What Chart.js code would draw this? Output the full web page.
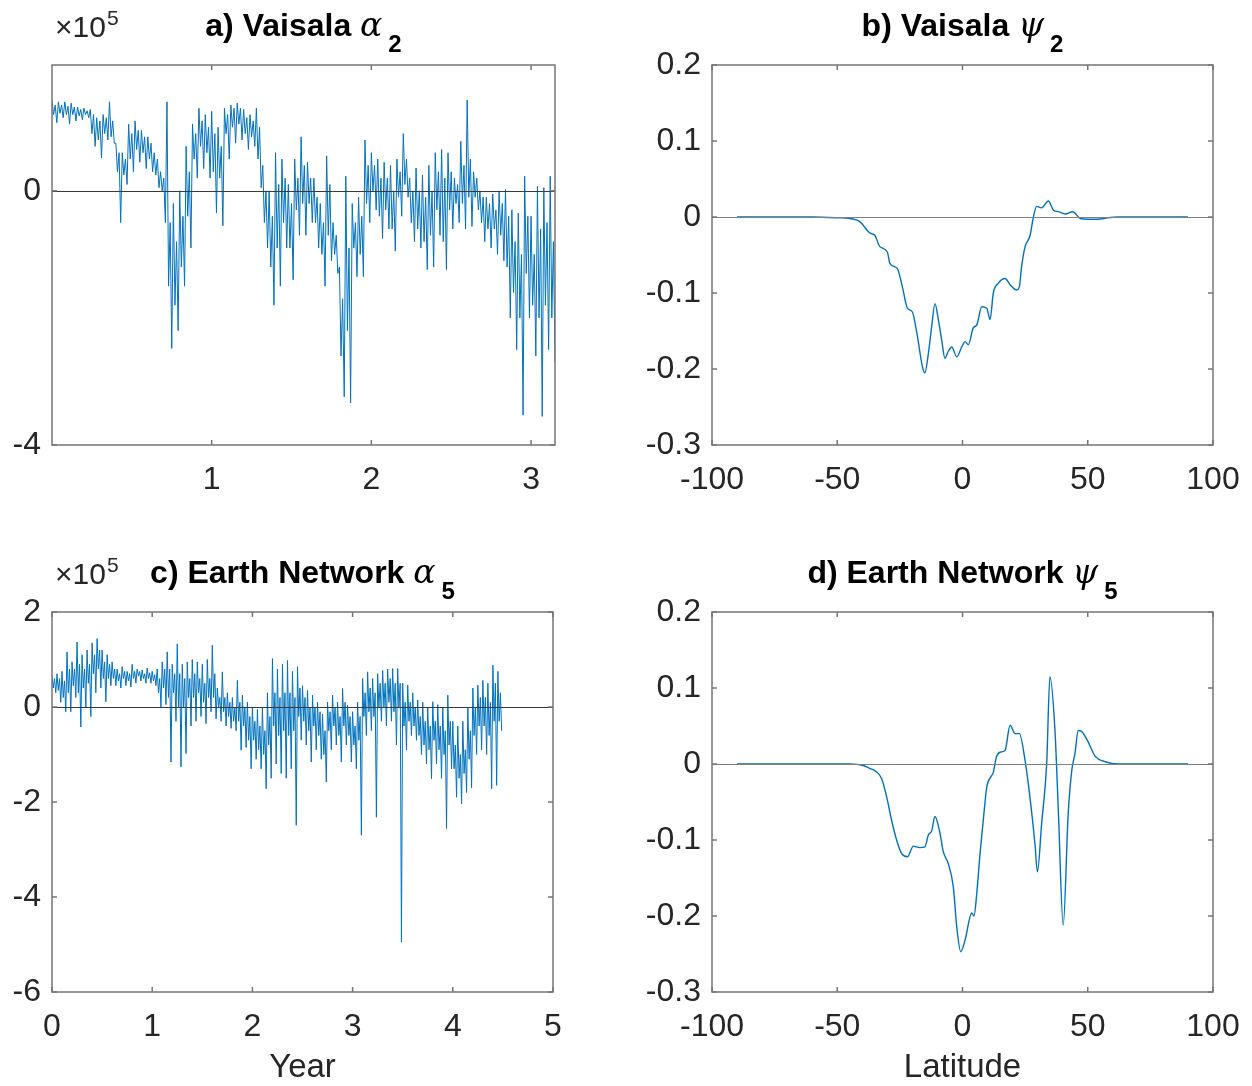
<!DOCTYPE html>
<html>
<head>
<meta charset="utf-8">
<script src="https://cdn.jsdelivr.net/npm/chart.js"></script>
<style>
html, body { margin: 0; padding: 0; background: #fff; }
body { width: 1252px; height: 1086px; position: relative; overflow: hidden; }
canvas { position: absolute; }
</style>
</head>
<body>
<canvas id="panelA" width="600" height="540" style="left:0;top:0"></canvas>
<canvas id="panelB" width="700" height="540" style="left:600px;top:0"></canvas>
<canvas id="panelC" width="600" height="541" style="left:0;top:545px"></canvas>
<canvas id="panelD" width="700" height="541" style="left:600px;top:545px"></canvas>
<script>
// a) Vaisala alpha_2, units of 1e5, read per 0.04 yr bucket:
// spikes (high/low) and the dense core of the trace (coreHigh/coreLow)
const aYearStep = 0.04;
const aHigh = [1.42, 1.40, 1.40, 1.38, 1.32, 1.30, 1.28, 1.15, 1.20, 1.40,
    0.75, 0.60, 1.05, 1.10, 0.95, 0.85, 0.60, 0.30, 1.40, -0.20,
    0.00, 0.70, 1.05, 1.30, 1.20, 1.25, 1.00, 1.30, 1.35, 1.38,
    1.28, 1.20, 1.30, 0.40, 0.00, 0.60, 0.50, 0.10, 0.50, 0.85,
    0.45, 0.20, -0.20, 0.55, -0.50, -1.20, 0.23, -0.20, -0.10, 0.80,
    0.60, 0.50, 0.45, 0.40, 0.50, 0.90, 0.20, 0.36, 0.25, 0.40,
    0.60, 0.65, 0.60, 0.20, 0.78, 1.43, 0.30, 0.00, -0.10, -0.05,
    0.00, 0.02, -0.30, -0.35, 0.23, -0.40, 0.07, 0.05, 0.23];
const aLow = [1.07, 1.15, 1.05, 1.10, 1.12, 1.15, 0.70, 0.52, 0.80, 0.75,
    -0.50, 0.10, 0.30, 0.45, 0.35, 0.30, 0.05, -0.50, -2.48, -2.20,
    -1.50, -0.90, 0.20, 0.35, 0.20, -0.35, -0.55, 0.50, 0.75, 0.80,
    0.65, 0.70, 0.05, -0.90, -1.80, -1.50, -0.90, -1.40, -0.70, -0.70,
    -0.50, -0.90, -1.50, -1.10, -1.30, -3.24, -3.34, -1.35, -1.35, -0.50,
    -0.30, -0.75, -0.60, -0.95, -0.40, -0.10, -0.80, -0.90, -1.24, -1.20,
    -0.70, -1.24, -0.60, -0.50, -0.60, -0.56, -0.30, -0.80, -0.90, -1.00,
    -1.10, -2.00, -2.50, -3.53, -2.00, -2.60, -3.55, -2.50, -2.70];
const aCoreHigh = [1.35, 1.35, 1.33, 1.32, 1.28, 1.26, 1.20, 1.10, 1.15, 1.10,
    0.60, 0.50, 0.90, 0.95, 0.85, 0.75, 0.50, 0.20, -0.50, -0.80,
    -0.40, 0.30, 0.90, 1.10, 1.00, 0.90, 0.70, 1.20, 1.30, 1.30,
    1.15, 1.10, 1.00, 0.00, -0.40, 0.10, 0.20, -0.20, 0.20, 0.40,
    0.20, -0.10, -0.50, 0.10, -0.70, -1.70, -0.90, -0.50, -0.40, 0.40,
    0.40, 0.20, 0.20, 0.00, 0.30, 0.50, 0.00, 0.00, -0.10, 0.00,
    0.30, 0.20, 0.30, 0.10, 0.40, 0.50, 0.20, -0.10, -0.20, -0.30,
    -0.20, -0.40, -0.80, -1.00, -0.40, -1.00, -0.60, -0.50, -0.80];
const aCoreLow = [1.20, 1.22, 1.20, 1.20, 1.18, 1.20, 0.90, 0.80, 0.90, 0.85,
    0.30, 0.25, 0.50, 0.65, 0.60, 0.50, 0.25, 0.00, -1.50, -1.80,
    -1.20, -0.40, 0.50, 0.70, 0.60, 0.30, 0.20, 0.90, 1.00, 1.05,
    0.90, 0.85, 0.50, -0.50, -1.20, -0.90, -0.50, -0.90, -0.30, -0.20,
    -0.20, -0.50, -1.00, -0.70, -1.00, -2.60, -2.20, -0.90, -1.00, -0.20,
    0.00, -0.40, -0.30, -0.60, -0.10, 0.10, -0.50, -0.60, -0.80, -0.70,
    -0.30, -0.80, -0.30, -0.20, -0.20, -0.10, -0.10, -0.50, -0.60, -0.60,
    -0.70, -1.20, -1.60, -2.00, -1.30, -1.80, -2.00, -1.80, -2.00];

// c) Earth Network alpha_5, units of 1e5, per 0.05 yr bucket
const cYearStep = 0.05;
const cHigh = [0.65, 0.70, 0.75, 1.16, 0.95, 1.37, 1.10, 1.20, 1.35, 1.44,
    1.20, 1.10, 0.95, 0.80, 0.85, 0.75, 0.90, 0.80, 0.78, 0.82,
    0.75, 0.80, 0.95, 1.16, 0.90, 1.33, 0.90, 0.95, 1.00, 0.95,
    0.90, 1.00, 1.30, 0.40, 0.74, 0.30, 0.20, 0.56, 0.25, 0.10,
    0.00, -0.05, 0.00, 0.30, 1.02, 0.80, 0.90, 0.98, 0.75, 0.85,
    0.45, 0.35, 0.25, 0.10, -0.15, 0.10, 0.25, 0.10, 0.39, 0.04,
    -0.10, 0.10, 0.60, 0.74, 0.60, 0.70, 0.77, 0.80, 0.81, 0.81,
    0.50, 0.46, 0.30, 0.15, 0.10, 0.00, 0.11, 0.05, 0.00, 0.25,
    -0.30, -0.40, -0.30, 0.00, 0.40, 0.46, 0.56, 0.50, 0.88, 0.75];
const cLow = [0.30, 0.10, -0.10, -0.10, 0.20, -0.42, 0.00, -0.20, 0.30, 0.40,
    0.11, 0.45, 0.45, 0.40, 0.45, 0.42, 0.50, 0.55, 0.50, 0.50,
    0.45, 0.00, 0.05, -1.16, -0.30, -1.26, -0.98, -0.40, -0.30, -0.20,
    -0.35, -0.10, -0.25, -0.30, -0.40, -0.45, -0.50, -0.91, -0.85, -1.30,
    -1.10, -1.30, -1.72, -1.50, -1.20, -1.40, -1.50, -1.30, -2.49, -0.70,
    -0.80, -1.16, -0.90, -1.10, -1.58, -0.90, -0.80, -1.16, -0.80, -1.16,
    -1.30, -2.70, -0.60, -0.50, -2.32, -0.30, -0.40, -0.30, -0.80, -4.95,
    -0.90, -0.60, -0.70, -1.00, -1.20, -1.51, -1.20, -1.50, -2.56, -1.30,
    -1.90, -2.04, -1.80, -1.70, -1.00, -0.90, -1.00, -1.72, -1.65, -0.50];
const cCoreHigh = [0.60, 0.60, 0.55, 0.80, 0.80, 0.90, 0.80, 0.90, 1.10, 1.20,
    0.95, 0.90, 0.80, 0.70, 0.75, 0.70, 0.75, 0.75, 0.70, 0.72,
    0.68, 0.60, 0.80, 0.80, 0.70, 0.70, 0.60, 0.60, 0.70, 0.60,
    0.50, 0.60, 0.70, 0.20, 0.20, 0.10, 0.00, 0.10, 0.00, -0.20,
    -0.30, -0.40, -0.50, -0.20, 0.30, 0.20, 0.30, 0.30, 0.20, 0.40,
    0.20, 0.00, 0.00, -0.10, -0.50, -0.10, 0.00, -0.20, 0.10, -0.20,
    -0.40, -0.20, 0.30, 0.40, 0.30, 0.50, 0.50, 0.60, 0.50, 0.50,
    0.10, 0.10, 0.00, -0.20, -0.30, -0.40, -0.30, -0.40, -0.50, -0.30,
    -0.80, -1.00, -0.90, -0.50, 0.00, 0.20, 0.20, 0.10, 0.50, 0.30];
const cCoreLow = [0.40, 0.35, 0.20, 0.30, 0.45, 0.30, 0.40, 0.50, 0.70, 0.80,
    0.60, 0.60, 0.60, 0.55, 0.60, 0.55, 0.60, 0.65, 0.60, 0.60,
    0.55, 0.30, 0.40, 0.20, 0.30, 0.00, 0.00, 0.20, 0.20, 0.30,
    0.10, 0.20, 0.20, 0.00, -0.10, -0.20, -0.30, -0.30, -0.40, -0.70,
    -0.70, -0.90, -1.00, -0.80, -0.40, -0.60, -0.50, -0.60, -0.50, -0.20,
    -0.30, -0.50, -0.40, -0.60, -1.00, -0.50, -0.40, -0.60, -0.40, -0.60,
    -0.80, -0.70, -0.20, -0.10, -0.20, 0.00, 0.00, 0.10, -0.10, 0.00,
    -0.40, -0.30, -0.40, -0.60, -0.80, -0.90, -0.70, -0.90, -1.00, -0.80,
    -1.30, -1.50, -1.40, -1.10, -0.60, -0.40, -0.40, -0.60, -0.30, -0.30];

// b) Vaisala psi_2
const bLat = [-90, -60, -50, -45, -41, -37, -35, -33, -30, -29, -26, -24, -22, -20, -18,
    -16, -15, -13.6, -12.3, -11, -9.6, -8.3, -7, -5.7, -4.3, -2.3, -0.3, 1, 2.3, 4.3,
    5.7, 7.7, 9.7, 11, 12.3, 14.3, 17, 19, 21.6, 22.7, 23.6, 25, 27, 28.3, 29.6,
    31.6, 34.3, 36.3, 38.3, 41, 44, 47, 50, 54, 58, 62, 70, 90];
const bPsi = [0, 0, -0.001, -0.002, -0.006, -0.021, -0.024, -0.039, -0.046, -0.061, -0.068, -0.092, -0.120, -0.125, -0.157,
    -0.197, -0.205, -0.179, -0.144, -0.114, -0.136, -0.162, -0.186, -0.177, -0.171, -0.184, -0.171, -0.164, -0.168, -0.146,
    -0.142, -0.118, -0.120, -0.135, -0.100, -0.087, -0.081, -0.089, -0.096, -0.092, -0.065, -0.039, -0.024, 0, 0.014,
    0.012, 0.021, 0.009, 0.007, 0.004, 0.007, -0.002, -0.003, -0.003, -0.001, 0, 0, 0];

// d) Earth Network psi_5
const dLat = [-90, -60, -45, -39.6, -36.9, -34.9, -32.3, -30.3, -28.3, -26.3, -24.3, -22, -19.6, -17, -15,
    -13.6, -12.3, -11, -9, -7.7, -5.7, -3.7, -2.3, -0.7, 1, 3.7, 4.6, 5.7, 7, 8.3,
    9.7, 11.3, 12.3, 13.6, 15.6, 17, 19, 21, 22.7, 25, 26.9, 28.9, 29.9, 31.6, 33.6,
    34.9, 36.9, 38.3, 40.2, 42.2, 43.6, 44.9, 46.2, 47.5, 50, 53, 57, 62, 70, 90];
const dPsi = [0, 0, 0, -0.002, -0.006, -0.009, -0.019, -0.043, -0.074, -0.100, -0.118, -0.122, -0.108, -0.110, -0.109,
    -0.093, -0.088, -0.069, -0.091, -0.115, -0.131, -0.161, -0.214, -0.247, -0.232, -0.196, -0.200, -0.170, -0.118, -0.074,
    -0.030, -0.017, -0.011, 0.010, 0.016, 0.018, 0.051, 0.040, 0.040, 0.004, -0.043, -0.104, -0.142, -0.078, 0,
    0.115, 0.045, -0.065, -0.212, -0.065, -0.009, 0.014, 0.044, 0.043, 0.030, 0.010, 0.003, 0, 0, 0];

// tick values
const aYearTicks = [1, 2, 3];
const aAlphaTicks = [-4, 0];
const cYearTicks = [0, 1, 2, 3, 4, 5];
const cAlphaTicks = [-6, -4, -2, 0, 2];
const latTicks = [-100, -50, 0, 50, 100];
const psiTicks = [-0.3, -0.2, -0.1, 0, 0.1, 0.2];

const TEXT = '#262626';
const BOX = '#767676';
const BLUE = '#0072BD';
const SANS = '"Liberation Sans", Arial, Helvetica, sans-serif';
const TICK_LEN = 5;
const TICK_FONT = 32;

Chart.defaults.font.family = SANS;
Chart.defaults.color = TEXT;

// each bucket: spike up, core bottom, core top, spike down
function bucketTrace(high, coreLow, coreHigh, low, step) {
    const pts = [];
    high.forEach((h, i) => {
        const x0 = i * step;
        pts.push({ x: x0, y: h });
        pts.push({ x: x0 + step / 4, y: coreLow[i] });
        pts.push({ x: x0 + step / 2, y: coreHigh[i] });
        pts.push({ x: x0 + 3 * step / 4, y: low[i] });
    });
    return pts;
}

function pairTrace(xs, ys) {
    return xs.map((x, i) => ({ x: x, y: ys[i] }));
}

function fmt(v) {
    const r = Math.round(v * 1000) / 1000;
    return String(r === 0 ? 0 : r);
}

function line(ctx, x1, y1, x2, y2) {
    ctx.beginPath();
    ctx.moveTo(x1, y1);
    ctx.lineTo(x2, y2);
    ctx.stroke();
}

// box, inward ticks, zero line and the TeX-ish title, like a MATLAB axes
const matlabAxes = {
    id: 'matlabAxes',
    afterDatasetsDraw(chart, args, opts) {
        const { ctx, chartArea: ca, scales: { x, y } } = chart;
        ctx.save();

        ctx.strokeStyle = opts.zeroColor;
        ctx.lineWidth = 1.2;
        const y0 = Math.round(y.getPixelForValue(0)) + 0.5;
        line(ctx, ca.left, y0, ca.right, y0);

        ctx.strokeStyle = BOX;
        ctx.lineWidth = 1.5;
        ctx.strokeRect(ca.left, ca.top, ca.right - ca.left, ca.bottom - ca.top);
        x.ticks.forEach(t => {
            const px = x.getPixelForValue(t.value);
            line(ctx, px, ca.bottom, px, ca.bottom - TICK_LEN);
            line(ctx, px, ca.top, px, ca.top + TICK_LEN);
        });
        y.ticks.forEach(t => {
            const py = y.getPixelForValue(t.value);
            line(ctx, ca.left, py, ca.left + TICK_LEN, py);
            line(ctx, ca.right, py, ca.right - TICK_LEN, py);
        });

        ctx.fillStyle = '#000';
        ctx.textBaseline = 'alphabetic';
        ctx.textAlign = 'left';
        const base = ca.top - 29;
        let total = 0;
        opts.title.forEach(p => {
            ctx.font = p.font;
            total += ctx.measureText(p.text).width + (p.gap || 0);
        });
        let tx = (ca.left + ca.right) / 2 - total / 2;
        opts.title.forEach(p => {
            ctx.font = p.font;
            tx += p.gap || 0;
            ctx.fillText(p.text, tx, base + (p.dy || 0));
            tx += ctx.measureText(p.text).width;
        });

        if (opts.exponent) {
            ctx.fillStyle = TEXT;
            ctx.font = '30px ' + SANS;
            const ex = ca.left + 3;
            ctx.fillText('\u00d710', ex, ca.top - 28);
            const w = ctx.measureText('\u00d710').width;
            ctx.font = '21px ' + SANS;
            ctx.fillText('5', ex + w + 1, ca.top - 40);
        }
        ctx.restore();
    }
};

function titleParts(label, greek, sub) {
    return [
        { text: label + ' ', font: 'bold 32px ' + SANS },
        { text: greek, font: 'italic 33px "DejaVu Serif", serif' },
        { text: sub, font: 'bold 24px ' + SANS, dy: 16, gap: 6 }
    ];
}

function makePanel(id, p) {
    const canvas = document.getElementById(id);
    return new Chart(canvas, {
        type: 'line',
        data: {
            datasets: [{
                data: p.points,
                borderColor: BLUE,
                borderWidth: p.lineWidth,
                pointRadius: 0,
                fill: false,
                tension: 0,
                cubicInterpolationMode: p.smooth ? 'monotone' : 'default'
            }]
        },
        options: {
            responsive: false,
            animation: false,
            events: [],
            layout: { padding: { left: 0, top: p.box.top, right: canvas.width - p.box.right, bottom: 0 } },
            plugins: {
                legend: { display: false },
                tooltip: { enabled: false },
                matlabAxes: { title: p.title, exponent: p.exponent, zeroColor: p.zeroColor }
            },
            scales: {
                x: {
                    type: 'linear',
                    min: p.xRange[0],
                    max: p.xRange[1],
                    grid: { display: false, drawTicks: false },
                    border: { display: false },
                    ticks: { autoSkip: false, maxRotation: 0, padding: 16, font: { size: TICK_FONT }, callback: fmt },
                    afterBuildTicks: s => { s.ticks = p.xTicks.map(v => ({ value: v })); },
                    afterFit: s => { s.height = canvas.height - p.box.bottom; },
                    title: p.xTitle
                        ? { display: true, text: p.xTitle, font: { size: 33 }, color: TEXT, padding: { top: 0, bottom: -2 } }
                        : { display: false }
                },
                y: {
                    type: 'linear',
                    min: p.yRange[0],
                    max: p.yRange[1],
                    grid: { display: false, drawTicks: false },
                    border: { display: false },
                    ticks: { autoSkip: false, padding: 11, font: { size: TICK_FONT }, callback: fmt },
                    afterBuildTicks: s => { s.ticks = p.yTicks.map(v => ({ value: v })); },
                    afterFit: s => { s.width = p.box.left; }
                }
            }
        },
        plugins: [matlabAxes]
    });
}

makePanel('panelA', {
    points: bucketTrace(aHigh, aCoreLow, aCoreHigh, aLow, aYearStep),
    lineWidth: 1,
    box: { left: 52, top: 65, right: 555, bottom: 445 },
    xRange: [0, 3.15], yRange: [-4, 1.98],
    xTicks: aYearTicks, yTicks: aAlphaTicks,
    title: titleParts('a) Vaisala', '\u03b1', '2'),
    exponent: true, zeroColor: '#3a3a3a'
});

makePanel('panelB', {
    points: pairTrace(bLat, bPsi),
    lineWidth: 1.4, smooth: true,
    box: { left: 112, top: 65, right: 613, bottom: 445 },
    xRange: [-100, 100], yRange: [-0.3, 0.2],
    xTicks: latTicks, yTicks: psiTicks,
    title: titleParts('b) Vaisala', '\u03c8', '2'),
    exponent: false, zeroColor: '#808080'
});

makePanel('panelC', {
    points: bucketTrace(cHigh, cCoreLow, cCoreHigh, cLow, cYearStep),
    lineWidth: 1,
    box: { left: 52, top: 67, right: 553, bottom: 447 },
    xRange: [0, 5], yRange: [-6, 2],
    xTicks: cYearTicks, yTicks: cAlphaTicks,
    xTitle: 'Year',
    title: titleParts('c) Earth Network', '\u03b1', '5'),
    exponent: true, zeroColor: '#3a3a3a'
});

makePanel('panelD', {
    points: pairTrace(dLat, dPsi),
    lineWidth: 1.4, smooth: true,
    box: { left: 112, top: 67, right: 613, bottom: 447 },
    xRange: [-100, 100], yRange: [-0.3, 0.2],
    xTicks: latTicks, yTicks: psiTicks,
    xTitle: 'Latitude',
    title: titleParts('d) Earth Network', '\u03c8', '5'),
    exponent: false, zeroColor: '#808080'
});
</script>
</body>
</html>
